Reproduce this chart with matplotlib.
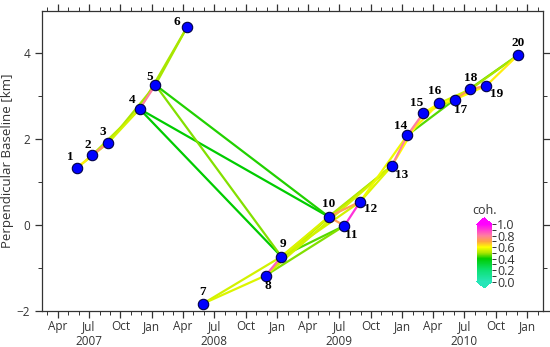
import numpy as np
import matplotlib
matplotlib.use("Agg")
import matplotlib.pyplot as plt
import matplotlib.dates as mdates
from matplotlib.colors import LinearSegmentedColormap, Normalize
from matplotlib.collections import LineCollection
from matplotlib.colorbar import ColorbarBase
import datetime as dt

# Acquisition dates (46-day repeat) and perpendicular baselines [km]
dates = ["2007-05-26", "2007-07-11", "2007-08-26", "2007-11-26", "2008-01-11",
         "2008-04-12", "2008-05-28", "2008-11-28", "2009-01-13", "2009-05-31",
         "2009-07-16", "2009-08-31", "2009-12-01", "2010-01-16", "2010-03-03",
         "2010-04-18", "2010-06-03", "2010-07-19", "2010-09-03", "2010-12-04"]
bperp = [1.32, 1.63, 1.91, 2.70, 3.26, 4.60, -1.84, -1.18, -0.74, 0.19,
         -0.02, 0.54, 1.37, 2.09, 2.60, 2.83, 2.92, 3.16, 3.24, 3.95]

# Interferogram pairs (1-based scene numbers) and coherence
pair_a = [1, 1, 2, 2, 3, 3, 4, 4, 5, 4, 4, 5, 5,
          7, 7, 8, 8, 8, 8, 9, 9, 9, 9, 10, 10, 11, 10, 12,
          13, 12, 13, 14, 14, 15, 15, 14, 16, 16, 17, 18, 17, 17, 18, 19]
pair_b = [2, 3, 3, 4, 4, 5, 5, 6, 6, 9, 10, 9, 10,
          8, 9, 9, 10, 11, 13, 10, 11, 12, 13, 11, 12, 12, 13, 13,
          14, 14, 15, 15, 16, 16, 17, 17, 17, 18, 18, 19, 19, 20, 20, 20]
coh = [0.62, 0.55, 0.75, 0.52, 0.55, 0.5, 0.8, 0.5, 0.5, 0.4, 0.4, 0.48, 0.42,
       0.56, 0.55, 0.85, 0.52, 0.48, 0.55, 0.56, 0.45, 0.55, 0.52, 0.72, 0.72, 0.92, 0.5, 0.56,
       0.8, 0.58, 0.6, 0.8, 0.62, 0.6, 0.55, 0.45, 0.6, 0.55, 0.72, 0.72, 0.6, 0.45, 0.5, 0.62]

cmap = LinearSegmentedColormap.from_list("coh", [
    (0.0, (0.15, 0.90, 0.72)),
    (0.2, (0.05, 0.88, 0.45)),
    (0.4, (0.0, 0.80, 0.0)),
    (0.5, (0.65, 0.90, 0.0)),
    (0.6, (1.0, 1.0, 0.0)),
    (0.7, (1.0, 0.65, 0.25)),
    (0.8, (1.0, 0.50, 0.62)),
    (1.0, (1.0, 0.0, 1.0))])
norm = Normalize(0, 1)

d = mdates.date2num([dt.datetime.strptime(s, "%Y-%m-%d") for s in dates])
b = np.array(bperp)

fig = plt.figure(figsize=(5.5, 3.47), dpi=100)
ax = fig.add_axes([0.0764, 0.1046, 0.9116, 0.8634])

order = np.argsort(coh)
segs = [[(d[pair_a[k] - 1], b[pair_a[k] - 1]), (d[pair_b[k] - 1], b[pair_b[k] - 1])] for k in order]
lc = LineCollection(segs, colors=[cmap(norm(coh[k])) for k in order], linewidths=1.6, zorder=2)
ax.add_collection(lc)

ax.plot(d, b, "o", ms=7.5, mfc="#0000ff", mec="#00004a", mew=0.8, ls="none", zorder=3)

# label offsets in pixels
offx = [-6, -5, -5, -7, -6, -10, 0, 2, 2, 0, 7, 10, 10, -7, -7, -4, 6, 0, 10, 0]
offy = [11, 10, 11, 9, 8, 5, 12, -10, 13, 13, -9, -7, -9, 9, 10, 12, -10, 11, -8, 12]
for i in range(len(d)):
    ax.annotate(str(i + 1), (d[i], b[i]), xytext=(offx[i], offy[i]), textcoords="offset pixels",
                ha="center", va="center", fontsize=9.5, fontweight="bold",
                family="Liberation Serif", zorder=4)

ax.set_xlim(mdates.date2num(dt.datetime(2007, 2, 14)), mdates.date2num(dt.datetime(2011, 2, 17)))
ax.set_ylim(-2, 4.98)

ax.xaxis.set_major_locator(mdates.MonthLocator(bymonth=[1, 4, 7, 10]))
ax.xaxis.set_minor_locator(mdates.MonthLocator())

def fmt(x, pos=None):
    t = mdates.num2date(x)
    s = t.strftime("%b")
    if t.month == 7:
        s += "\n" + str(t.year)
    return s

ax.xaxis.set_major_formatter(plt.FuncFormatter(fmt))
ax.set_yticks([-2, 0, 2, 4])
ax.set_yticklabels(["\u22122", "0", "2", "4"])
ax.set_yticks([-1, 1, 3], minor=True)

ax.tick_params(which="both", direction="out", top=True, right=True, colors="#333333",
               labelsize=8.5, labelfontfamily="Open Sans")
ax.tick_params(which="major", length=5, width=0.9)
ax.tick_params(which="minor", length=3, width=0.7)
ax.tick_params(axis="x", which="major", pad=2)
for sp in ax.spines.values():
    sp.set_color("#333333")
    sp.set_linewidth(0.9)
ax.set_ylabel("Perpendicular Baseline [km]", fontsize=9.5, family="Open Sans", color="#333333", labelpad=2)

cax = fig.add_axes([0.867, 0.170, 0.027, 0.202])
cb = ColorbarBase(cax, cmap=cmap, norm=norm, extend="both", extendfrac=0.11)
cb.outline.set_visible(False)
cb.set_ticks([0, 0.2, 0.4, 0.6, 0.8, 1.0])
cb.set_ticklabels(["0.0", "0.2", "0.4", "0.6", "0.8", "1.0"])
cb.ax.yaxis.set_minor_locator(plt.MultipleLocator(0.1))
cax.tick_params(which="both", length=3, width=0.7, colors="#333333", labelsize=9, pad=1,
                labelfontfamily="Open Sans")
cax.set_title("coh.", fontsize=9, family="Open Sans", color="#333333", pad=3)

fig.savefig("out.png", dpi=100)
